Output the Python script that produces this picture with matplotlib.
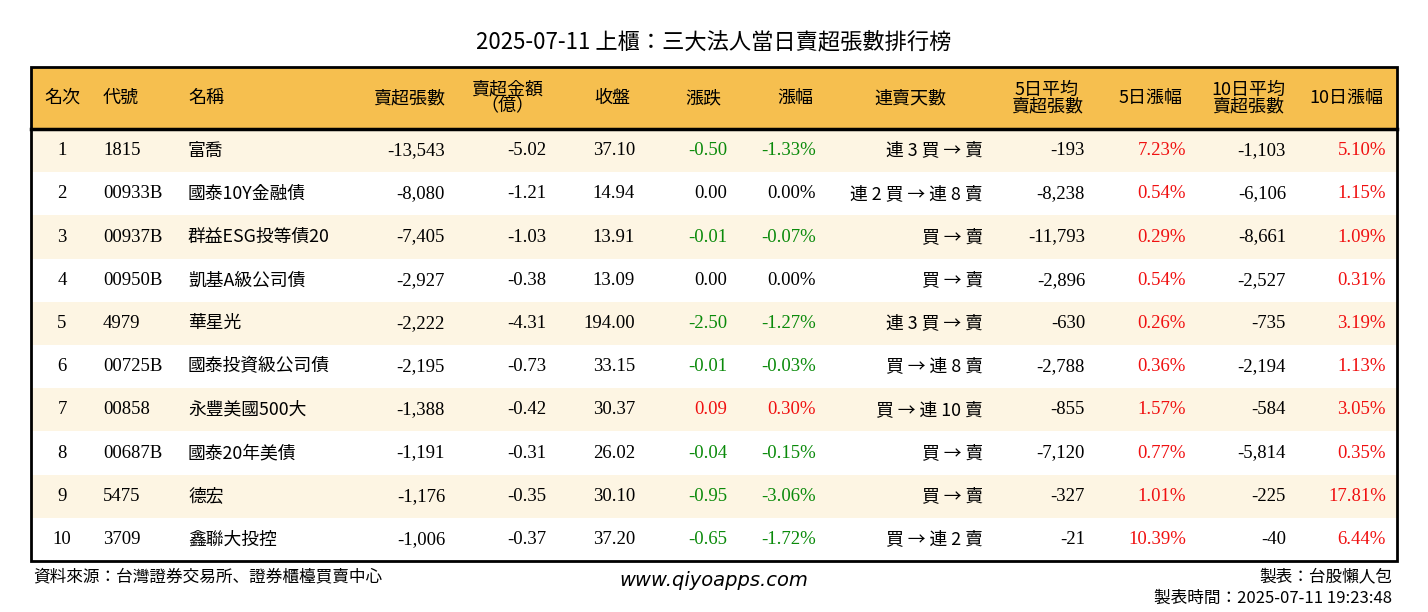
import matplotlib
matplotlib.use("Agg")
import matplotlib.pyplot as plt
from matplotlib.patches import Rectangle
from matplotlib import font_manager as fm

W, H = 1428, 612
ranks = list(range(1, 11))
codes = ["1815", "00933B", "00937B", "00950B", "4979", "00725B", "00858", "00687B", "5475", "3709"]
names = ["富喬", "國泰10Y金融債", "群益ESG投等債20", "凱基A級公司債", "華星光", "國泰投資級公司債",
         "永豐美國500大", "國泰20年美債", "德宏", "鑫聯大投控"]
net_sell = [-13543, -8080, -7405, -2927, -2222, -2195, -1388, -1191, -1176, -1006]
amount = [-5.02, -1.21, -1.03, -0.38, -4.31, -0.73, -0.42, -0.31, -0.35, -0.37]
close = [37.10, 14.94, 13.91, 13.09, 194.00, 33.15, 30.37, 26.02, 30.10, 37.20]
change = [-0.50, 0.00, -0.01, 0.00, -2.50, -0.01, 0.09, -0.04, -0.95, -0.65]
pct = [-1.33, 0.00, -0.07, 0.00, -1.27, -0.03, 0.30, -0.15, -3.06, -1.72]
streak = ["連 3 買 → 賣", "連 2 買 → 連 8 賣", "買 → 賣", "買 → 賣", "連 3 買 → 賣",
          "買 → 連 8 賣", "買 → 連 10 賣", "買 → 賣", "買 → 賣", "買 → 連 2 賣"]
avg5 = [-193, -8238, -11793, -2896, -630, -2788, -855, -7120, -327, -21]
pct5 = [7.23, 0.54, 0.29, 0.54, 0.26, 0.36, 1.57, 0.77, 1.01, 10.39]
avg10 = [-1103, -6106, -8661, -2527, -735, -2194, -584, -5814, -225, -40]
pct10 = [5.10, 1.15, 1.09, 0.31, 3.19, 1.13, 3.05, 0.35, 17.81, 6.44]
headers = ["名次", "代號", "名稱", "賣超張數", "賣超金額\n（億）", "收盤", "漲跌", "漲幅", "連賣天數",
           "5日平均\n賣超張數", "5日漲幅", "10日平均\n賣超張數", "10日漲幅"]

SERIF = "Liberation Serif"
avail = {f.name for f in fm.fontManager.ttflist}
CJK = next((n for n in ["Noto Sans CJK TC", "Noto Sans CJK JP", "Noto Sans CJK SC", "Noto Sans CJK KR"] if n in avail),
           next((n for n in sorted(avail) if "CJK" in n), "DejaVu Sans"))

def fam(s):
    return CJK if any(ord(c) > 0x2000 and c != "→" for c in s) else SERIF

fig = plt.figure(figsize=(W / 100, H / 100), dpi=100)
fig.patch.set_facecolor("white")

def px(x, y):
    return x / W, 1 - y / H

def txt(x, y, s, ha="left", color="black", size=13.5, family=None, **kw):
    f = family or fam(s)
    if f == CJK and family is None:
        size = size * 0.95
    fig.text(*px(x, y), s, ha=ha, va="center", color=color, fontsize=size, family=f, **kw)

def rect(x0, y0, x1, y1, fc, ec="none", lw=0):
    fig.patches.append(Rectangle(px(x0, y1), (x1 - x0) / W, (y1 - y0) / H, transform=fig.transFigure,
                                 facecolor=fc, edgecolor=ec, linewidth=lw))

L, R, T, B = 31, 1397, 67, 561
HB = 129
rh = (B - HB) / 10
rect(L, T, R, HB, "#F6BF4F")
for i in range(10):
    if i % 2 == 0:
        rect(L, HB + i * rh, R, HB + (i + 1) * rh, "#FDF5E3")
rect(L, T, R, B, "none", "black", 2)
fig.lines.append(plt.Line2D([L / W, R / W], [1 - HB / H] * 2, color="black", lw=2.5, transform=fig.transFigure))

txt(714, 42, "2025-07-11 上櫃：三大法人當日賣超張數排行榜", ha="center", size=16, family=CJK)

cols = [(62, "center"), (103, "left"), (188, "left"), (445, "right"), (546, "right"), (635, "right"),
        (727, "right"), (816, "right"), (983, "right"), (1085, "right"), (1186, "right"), (1286, "right"), (1386, "right")]
hdr_pos = [(62, "center"), (103, "left"), (188, "left"), (445, "right"), (507, "center"), (612, "center"),
           (703, "center"), (795, "center"), (910, "center"), (1047, "center"), (1151, "center"), (1248, "center"), (1346, "center")]
for (x, ha), h in zip(hdr_pos, headers):
    fig.text(*px(x, 98), h, ha=ha, va="center", fontsize=13, family=CJK, linespacing=0.92,
             multialignment="center")

GREEN, RED = "#0A8A0A", "#F01010"
def sc(v):
    return GREEN if v < 0 else (RED if v > 0 else "black")

for i in range(10):
    y = HB + (i + 0.5) * rh
    vals = [(str(ranks[i]), "black"), (codes[i], "black"), (names[i], "black"),
            (f"{net_sell[i]:,}", "black"), (f"{amount[i]:.2f}", "black"), (f"{close[i]:.2f}", "black"),
            (f"{change[i]:.2f}", sc(change[i])), (f"{pct[i]:.2f}%", sc(pct[i])), (streak[i], "black"),
            (f"{avg5[i]:,}", "black"), (f"{pct5[i]:.2f}%", sc(pct5[i])),
            (f"{avg10[i]:,}", "black"), (f"{pct10[i]:.2f}%", sc(pct10[i]))]
    for (x, ha), (s, c) in zip(cols, vals):
        txt(x, y, s, ha=ha, color=c, size=13.5)

txt(33, 577, "資料來源：台灣證券交易所、證券櫃檯買賣中心", size=12, family=CJK)
txt(714, 580, "www.qiyoapps.com", ha="center", size=14, family="DejaVu Sans", style="italic")
txt(1392, 577, "製表：台股懶人包", ha="right", size=12, family=CJK)
txt(1392, 598, "製表時間：2025-07-11 19:23:48", ha="right", size=12, family=CJK)

fig.savefig("out.png", dpi=100, facecolor="white")
